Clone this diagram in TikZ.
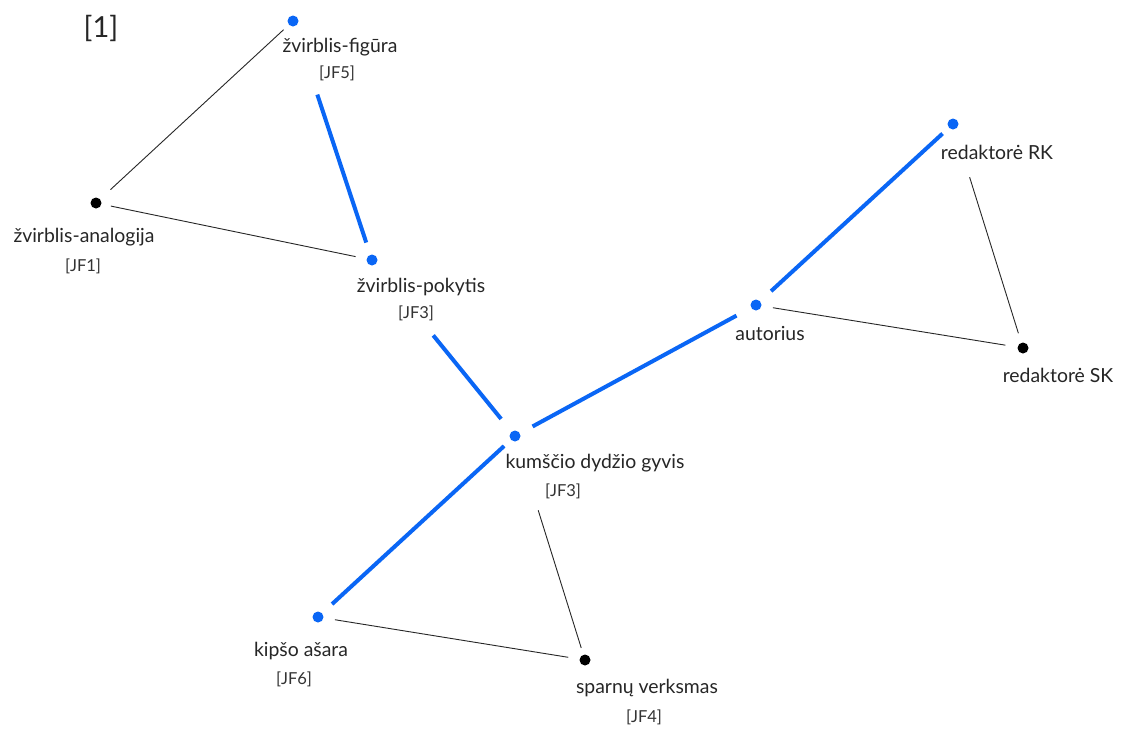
\documentclass[tikz,border=0pt]{standalone}
\usepackage{fontspec}
\setmainfont{Lato}
\begin{document}
\begin{tikzpicture}[x=1pt,y=-1pt,
  dotb/.style={circle,fill=linkblue,inner sep=0pt,minimum size=11pt},
  dotk/.style={circle,fill=black,inner sep=0pt,minimum size=11pt},
  lbl/.style={inner sep=0pt,font=\fontsize{19.4}{22}\selectfont,text=black!85},
  tag/.style={inner sep=0pt,font=\fontsize{16.5}{19}\selectfont,text=black!80},
  strong/.style={draw=linkblue,line width=4pt},
  weak/.style={draw=black!85,line width=0.9pt}]
\definecolor{linkblue}{HTML}{0A66F5}
\useasboundingbox (0,0) rectangle (1122,729);
\fill[white] (0,0) rectangle (1122,729);

\node[font=\fontsize{29}{32}\selectfont,text=black!85] (num) at (101,28) {[1]};

% points
\node[dotb] (fig) at (293,21) {};
\node[dotk] (ana) at (96,203) {};
\node[dotb] (pok) at (372,260) {};
\node[dotb] (kum) at (515,436) {};
\node[dotb] (aut) at (756,305) {};
\node[dotb] (rk)  at (953,124) {};
\node[dotk] (sk)  at (1023,348) {};
\node[dotb] (kip) at (318,617) {};
\node[dotk] (spa) at (585,660) {};

% labels
\node[lbl] (figL) at (340,47) {žvirblis-figūra};
\node[tag] (figT) at (337,73) {[JF5]};
\node[lbl] (anaL) at (84,237) {žvirblis-analogija};
\node[tag] (anaT) at (83,266) {[JF1]};
\node[lbl] (pokL) at (421,287) {žvirblis-pokytis};
\node[tag] (pokT) at (416,313) {[JF3]};
\node[lbl] (kumL) at (595,463) {kumščio dydžio gyvis};
\node[tag] (kumT) at (563,491) {[JF3]};
\node[lbl] (autL) at (770,333) {autorius};
\node[lbl] (rkL)  at (997,152) {redaktorė RK};
\node[lbl] (skL)  at (1058,375) {redaktorė SK};
\node[lbl] (kipL) at (301,651) {kipšo ašara};
\node[tag] (kipT) at (294,679) {[JF6]};
\node[lbl] (spaL) at (647,688) {sparnų verksmas};
\node[tag] (spaT) at (644,717) {[JF4]};

% connections
\draw[weak,shorten <=19.8pt,shorten >=12.8pt] (ana.center) -- (fig.center);
\draw[weak,shorten <=15.2pt,shorten >=16.8pt] (ana.center) -- (pok.center);
\draw[strong,shorten <=77.5pt,shorten >=18.4pt] (fig.center) -- (pok.center);
\draw[strong,shorten <=97.1pt,shorten >=22pt] (pok.center) -- (kum.center);
\draw[strong,shorten <=20pt,shorten >=22.2pt] (kum.center) -- (aut.center);
\draw[strong,shorten <=20.5pt,shorten >=14.2pt] (aut.center) -- (rk.center);
\draw[weak,shorten <=17.1pt,shorten >=17.9pt] (aut.center) -- (sk.center);
\draw[weak,shorten <=55.7pt,shorten >=15.5pt] (rk.center) -- (sk.center);
\draw[strong,shorten <=14.8pt,shorten >=19.1pt] (kum.center) -- (kip.center);
\draw[weak,shorten <=17.1pt,shorten >=17pt] (kip.center) -- (spa.center);
\draw[weak,shorten <=77.8pt,shorten >=12.6pt] (kum.center) -- (spa.center);
\end{tikzpicture}
\end{document}
